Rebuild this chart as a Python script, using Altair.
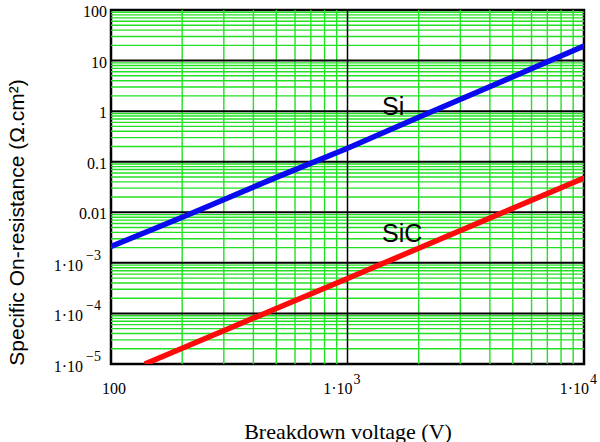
import altair as alt
import pandas as pd

# Breakdown voltage (V) sample points and read specific on-resistance values
si_voltage = [100, 200, 500, 1000, 2000, 5000, 10000]
si_ron = [0.0021, 0.0080, 0.049, 0.185, 0.76, 4.8, 19.5]

sic_voltage = [139, 200, 500, 1000, 2000, 5000, 10000]
sic_ron = [1.0e-5, 2.05e-5, 1.25e-4, 4.9e-4, 1.95e-3, 0.012, 0.0476]

# axis ticks and labels (mantissa part and exponent part)
x_ticks = [100, 1000, 10000]
x_label_base = ["100", "1·10", "1·10"]
x_label_exp = ["", "3", "4"]
y_ticks = [1e-5, 1e-4, 1e-3, 0.01, 0.1, 1, 10, 100]
y_label_base = ["1·10", "1·10", "1·10", "0.01", "0.1", "1", "10", "100"]
y_label_exp = ["−5", "−4", "−3", "", "", "", "", ""]

# grid lines
x_minor = [m * d for d in [100, 1000] for m in range(2, 10)]
y_minor = [m * d for d in [1e-5, 1e-4, 1e-3, 0.01, 0.1, 1, 10] for m in range(2, 10)]
x_major = [1000]
y_major = [1e-4, 1e-3, 0.01, 0.1, 1, 10]

# curve labels
label_names = ["Si", "SiC"]
label_x = [1400, 1400]
label_y = [1.21, 0.0037]

xs = alt.Scale(type="log", domain=[100, 10000], nice=False)
ys = alt.Scale(type="log", domain=[1e-5, 100], nice=False)

green = "#22e022"
serif = "Liberation Serif"

x_axis = alt.Axis(values=x_ticks, labels=False, grid=False, ticks=False, domain=False,
                  title="Breakdown voltage (V)", titleFont=serif, titleFontSize=22,
                  titleFontWeight="normal", titleColor="black", titleX=236.5, titleY=74,
                  titleBaseline="alphabetic", titleAlign="center")
y_axis = alt.Axis(values=y_ticks, labels=False, grid=False, ticks=False, domain=False,
                  title="Specific On-resistance (Ω.cm²)", titleFont="Liberation Sans", titleFontSize=21,
                  titleFontWeight="normal", titleColor="black", titleX=-94, titleY=212,
                  titleBaseline="middle", titleAlign="center", titleAngle=-90)

vminor = alt.Chart(pd.DataFrame({"x": x_minor})).mark_rule(color=green, strokeWidth=1.4).encode(
    x=alt.X("x:Q", scale=xs, axis=x_axis))
hminor = alt.Chart(pd.DataFrame({"y": y_minor})).mark_rule(color=green, strokeWidth=1.4).encode(
    y=alt.Y("y:Q", scale=ys, axis=y_axis))
vmajor = alt.Chart(pd.DataFrame({"x": x_major})).mark_rule(color="black", strokeWidth=1.5).encode(
    x=alt.X("x:Q", scale=xs))
hmajor = alt.Chart(pd.DataFrame({"y": y_major})).mark_rule(color="black", strokeWidth=2).encode(
    y=alt.Y("y:Q", scale=ys))

si_df = pd.DataFrame({"v": si_voltage, "r": si_ron})
sic_df = pd.DataFrame({"v": sic_voltage, "r": sic_ron})

si_line = alt.Chart(si_df).mark_line(color="#0a0af0", strokeWidth=5.5, clip=True).encode(
    x=alt.X("v:Q", scale=xs), y=alt.Y("r:Q", scale=ys))
sic_line = alt.Chart(sic_df).mark_line(color="#ff0a0a", strokeWidth=5.5, clip=True).encode(
    x=alt.X("v:Q", scale=xs), y=alt.Y("r:Q", scale=ys))

labels = alt.Chart(pd.DataFrame({"name": label_names, "x": label_x, "y": label_y})).mark_text(
    font="Liberation Sans", fontSize=25, align="left", baseline="middle", color="black").encode(
    x=alt.X("x:Q", scale=xs), y=alt.Y("y:Q", scale=ys), text="name:N")

# tick labels as text anchored at the axis positions
xdf = pd.DataFrame({"t": x_ticks, "b": x_label_base, "e": x_label_exp, "y0": [1e-5] * 3})
xdf["has_exp"] = xdf["e"] != ""
ydf = pd.DataFrame({"t": y_ticks, "b": y_label_base, "e": y_label_exp, "x0": [100] * 8})
ydf["has_exp"] = ydf["e"] != ""

x_plain = alt.Chart(xdf[~xdf["has_exp"]]).mark_text(
    font=serif, fontSize=16, align="center", baseline="middle", dx=3, dy=25, color="black").encode(
    x=alt.X("t:Q", scale=xs), y=alt.Y("y0:Q", scale=ys), text="b:N")
x_base = alt.Chart(xdf[xdf["has_exp"]]).mark_text(
    font=serif, fontSize=16, align="right", baseline="middle", dx=5, dy=25, color="black").encode(
    x=alt.X("t:Q", scale=xs), y=alt.Y("y0:Q", scale=ys), text="b:N")
x_exp = alt.Chart(xdf[xdf["has_exp"]]).mark_text(
    font=serif, fontSize=14, align="left", baseline="middle", dx=6, dy=16, color="black").encode(
    x=alt.X("t:Q", scale=xs), y=alt.Y("y0:Q", scale=ys), text="e:N")

y_plain = alt.Chart(ydf[~ydf["has_exp"]]).mark_text(
    font=serif, fontSize=16, align="right", baseline="middle", dx=-4, dy=2, color="black").encode(
    x=alt.X("x0:Q", scale=xs), y=alt.Y("t:Q", scale=ys), text="b:N")
y_base = alt.Chart(ydf[ydf["has_exp"]]).mark_text(
    font=serif, fontSize=16, align="right", baseline="middle", dx=-28, dy=3, color="black").encode(
    x=alt.X("x0:Q", scale=xs), y=alt.Y("t:Q", scale=ys), text="b:N")
y_exp = alt.Chart(ydf[ydf["has_exp"]]).mark_text(
    font=serif, fontSize=14, align="right", baseline="middle", dx=-10, dy=-7, color="black").encode(
    x=alt.X("x0:Q", scale=xs), y=alt.Y("t:Q", scale=ys), text="e:N")

chart = alt.layer(vminor, hminor, hmajor, vmajor, si_line, sic_line, labels,
                  x_plain, x_base, x_exp, y_plain, y_base, y_exp).properties(
    width=473, height=354,
    autosize=alt.AutoSizeParams(type="none"),
    padding={"left": 111, "top": 10, "right": 16, "bottom": 78},
    background="white",
).configure_view(stroke="black", strokeWidth=2.5)

chart.save("out.html", embed_options={"renderer": "svg", "actions": False})
